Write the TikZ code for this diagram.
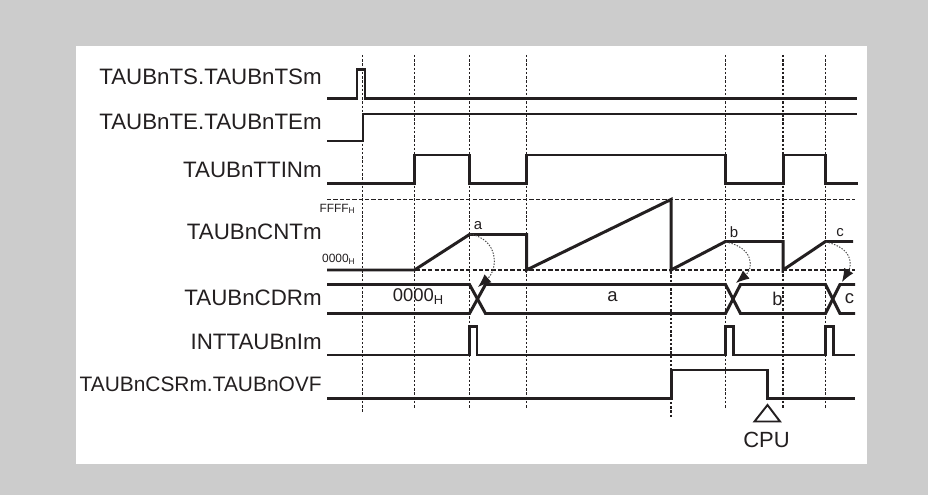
\documentclass[tikz,border=0pt]{standalone}
\usepackage{fontspec}
\setsansfont{Liberation Sans}
\usetikzlibrary{arrows.meta}
\definecolor{tbg}{HTML}{CCCCCC}
\definecolor{tink}{HTML}{231F20}
\definecolor{tarc}{HTML}{4A4A4A}

\tikzset{
  sig/.style={tink, line width=1.7pt},
  guide/.style={tink, line width=0.9pt, dash pattern=on 1.4pt off 1pt},
  lvl/.style={tink, line width=0.8pt, dash pattern=on 2.4pt off 1.2pt},
  sname/.style={font=\sffamily\fontsize{12.7}{15}\selectfont, text=tink, anchor=east, inner sep=0pt},
  hexlab/.style={font=\sffamily\fontsize{6.8}{8}\selectfont, text=tink, anchor=east, inner sep=0pt},
  vallab/.style={font=\sffamily\fontsize{8.5}{10}\selectfont, text=tink, inner sep=0pt},
  datalab/.style={font=\sffamily\fontsize{10.5}{12}\selectfont, text=tink, inner sep=0pt},
  copyarc/.style={tarc, line width=0.55pt, dash pattern=on 0.8pt off 0.8pt,
    -{Latex[length=7.5pt, width=6pt, color=tink]}}
}

\begin{document}
\begin{tikzpicture}[x=1cm, y=1cm]

  %% frame
  \fill[tbg] (0.0,0.0) rectangle (18.56,9.90);
  \fill[white] (1.52,0.62) rectangle (17.34,8.98);

  %% timing guides
  \draw[guide] (7.25,8.80) -- (7.25,1.64);
  \foreach \t in {8.29,9.39,10.53,14.51,15.66,16.51}{
    \draw[guide] (\t,8.80) -- (\t,1.74);
  }
  \draw[guide] (13.42,5.91) -- (13.42,1.56);

  %% signal names
  \node[sname] (nts)  at (6.44,8.36) {TAUBnTS.TAUBnTSm};
  \node[sname] (nte)  at (6.44,7.47) {TAUBnTE.TAUBnTEm};
  \node[sname] (ntin) at (6.44,6.51) {TAUBnTTINm};
  \node[sname] (ncnt) at (6.44,5.27) {TAUBnCNTm};
  \node[sname] (ncdr) at (6.44,3.94) {TAUBnCDRm};
  \node[sname] (nint) at (6.44,3.07) {INTTAUBnIm};
  \node[sname, font=\sffamily\fontsize{11.9}{14}\selectfont] (novf) at (6.44,2.22) {TAUBnCSRm.TAUBnOVF};

  %% TS, TE, TTIN
  \draw[sig] (6.54,7.93) -- (7.14,7.93) -- (7.14,8.51) -- (7.30,8.51) -- (7.30,7.93) -- (17.14,7.93);
  \draw[sig] (6.54,7.08) -- (7.26,7.08) -- (7.26,7.62) -- (17.14,7.62);
  \draw[sig] (6.54,6.23) -- (8.29,6.23) -- (8.29,6.80) -- (9.39,6.80) -- (9.39,6.23)
    -- (10.53,6.23) -- (10.53,6.80) -- (14.51,6.80) -- (14.51,6.23)
    -- (15.66,6.23) -- (15.66,6.80) -- (16.51,6.80) -- (16.51,6.23) -- (17.16,6.23);

  %% counter levels
  \draw[lvl] (6.54,5.91) -- (17.10,5.91);
  \draw[lvl] (6.54,4.50) -- (17.10,4.50);
  \node[hexlab] (hmax) at (7.12,5.72) {FFFF\textsubscript{H}};
  \node[hexlab] (hmin) at (7.12,4.72) {0000\textsubscript{H}};

  %% counter
  \draw[sig] (6.54,4.50) -- (8.29,4.50) -- (9.39,5.21) -- (10.53,5.21) -- (10.53,4.50)
    -- (13.42,5.91) -- (13.42,4.50) -- (14.51,5.07) -- (15.66,5.07) -- (15.66,4.50)
    -- (16.51,5.07) -- (17.06,5.07);
  \node[vallab] (ca) at (9.56,5.38) {a};
  \node[vallab] (cb) at (14.68,5.25) {b};
  \node[vallab] (cc) at (16.80,5.25) {c};

  %% capture register
  \draw[sig] (6.54,4.21) -- (9.39,4.21) -- (9.71,3.63) -- (14.51,3.63) -- (14.81,4.21)
    -- (16.51,4.21) -- (16.80,3.63) -- (17.10,3.63);
  \draw[sig] (6.54,3.63) -- (9.39,3.63) -- (9.71,4.21) -- (14.51,4.21) -- (14.81,3.63)
    -- (16.51,3.63) -- (16.80,4.21) -- (17.10,4.21);
  \node[datalab] (d0) at (8.37,3.97) {0000\textsubscript{H}};
  \node[datalab] (da) at (12.25,3.97) {a};
  \node[datalab] (db) at (15.55,3.92) {b};
  \node[datalab] (dc) at (16.99,3.92) {c};

  %% capture arcs
  \draw[copyarc] (9.40,5.22) .. controls (10.00,5.10) and (9.95,4.50) .. (9.56,4.16);
  \draw[copyarc] (14.52,5.06) .. controls (15.10,4.94) and (15.06,4.52) .. (14.72,4.24);
  \draw[copyarc] (16.52,5.06) .. controls (17.06,4.94) and (17.04,4.60) .. (16.84,4.26);

  %% interrupt
  \draw[sig] (6.54,2.80) -- (9.39,2.80) -- (9.39,3.37) -- (9.54,3.37) -- (9.54,2.80)
    -- (14.51,2.80) -- (14.51,3.37) -- (14.66,3.37) -- (14.66,2.80)
    -- (16.51,2.80) -- (16.51,3.37) -- (16.66,3.37) -- (16.66,2.80) -- (17.10,2.80);

  %% overflow flag
  \draw[sig] (6.54,1.93) -- (13.42,1.93) -- (13.42,2.50) -- (15.35,2.50) -- (15.35,1.93) -- (17.10,1.93);
  \draw[tink, line width=1.1pt] (15.35,1.80) -- (15.60,1.47) -- (15.09,1.47) -- cycle;
  \node[font=\sffamily\fontsize{12.5}{15}\selectfont, text=tink, inner sep=0pt] (cpu) at (15.33,1.10) {CPU};

\end{tikzpicture}
\end{document}
